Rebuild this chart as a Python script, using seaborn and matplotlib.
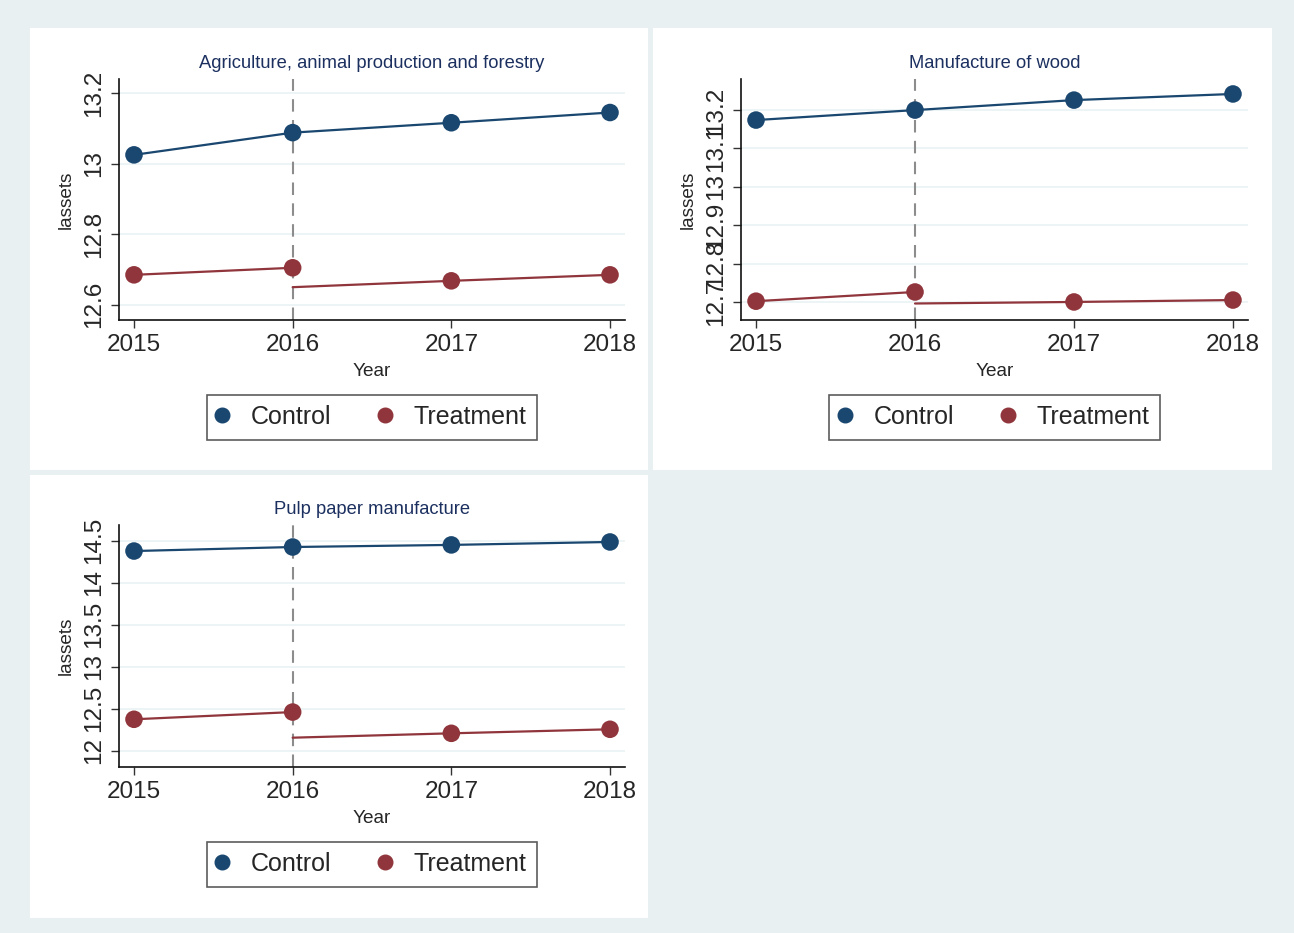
import numpy as np
import pandas as pd
import matplotlib
matplotlib.use("Agg")
import matplotlib.pyplot as plt
import seaborn as sns
from matplotlib.lines import Line2D

sns.set_theme(style="white")
plt.rcParams["font.family"] = ["Liberation Sans", "DejaVu Sans"]

years = [2015, 2016, 2017, 2018]
post_years = [2016, 2017, 2018]
groups = ["Control", "Treatment"]

titles = ["Agriculture, animal production and forestry",
          "Manufacture of wood",
          "Pulp paper manufacture"]

# mean log assets per year
control_vals = [
    [13.025, 13.088, 13.116, 13.145],
    [13.174, 13.200, 13.226, 13.242],
    [14.377, 14.425, 14.450, 14.485],
]
treatment_vals = [
    [12.685, 12.705, 12.668, 12.685],
    [12.702, 12.726, 12.700, 12.705],
    [12.374, 12.460, 12.207, 12.255],
]
# post-period treatment line (starts at the 2016 cutoff)
treatment_post_line = [
    [12.650, 12.668, 12.685],
    [12.696, 12.700, 12.705],
    [12.155, 12.207, 12.255],
]

y_ticks = [
    [12.6, 12.8, 13.0, 13.2],
    [12.7, 12.8, 12.9, 13.0, 13.1, 13.2],
    [12.0, 12.5, 13.0, 13.5, 14.0, 14.5],
]
y_tick_labels = [
    ["12.6", "12.8", "13", "13.2"],
    ["12.7", "12.8", "12.9", "13", "13.1", "13.2"],
    ["12", "12.5", "13", "13.5", "14", "14.5"],
]
y_limits = [(12.557, 13.24), (12.653, 13.281), (11.806, 14.687)]

NAVY = "#1a476f"
MAROON = "#90353b"
BG = "#e8f0f2"
GRID = "#eaf2f3"
TITLE_C = "#1c3060"

W, H = 1294, 933
fig = plt.figure(figsize=(W / 100, H / 100), dpi=100)
fig.patch.set_facecolor(BG)

def fx(px):
    return px / W

def fy(py):
    return 1 - py / H

# white panel regions (left, top, right, bottom) in pixels
panels = [(30, 28, 648, 470), (653, 28, 1272, 470), (30, 475, 648, 918)]
# plot areas (left, top, right, bottom) in pixels
plots = [(119, 79, 625, 320), (741, 79, 1248, 320), (119, 525, 625, 767)]

for i in range(3):
    l, t, r, b = panels[i]
    fig.patches.append(plt.Rectangle((fx(l), fy(b)), fx(r - l), (b - t) / H,
                                     transform=fig.transFigure, facecolor="white",
                                     edgecolor="none", zorder=-10))

    l, t, r, b = plots[i]
    ax = fig.add_axes([fx(l), fy(b), fx(r - l), (b - t) / H])
    ax.set_zorder(2)
    ax.set_facecolor("white")

    df = pd.DataFrame({
        "Year": years * 2,
        "lassets": control_vals[i] + treatment_vals[i],
        "group": ["Control"] * 4 + ["Treatment"] * 4,
    })
    pal = {"Control": NAVY, "Treatment": MAROON}

    ctrl = df[df.group == "Control"]
    sns.lineplot(data=ctrl, x="Year", y="lassets", color=NAVY, lw=1.6, ax=ax,
                 legend=False, zorder=3)
    pre = df[(df.group == "Treatment") & (df.Year <= 2016)]
    sns.lineplot(data=pre, x="Year", y="lassets", color=MAROON, lw=1.6, ax=ax,
                 legend=False, zorder=3)
    post = pd.DataFrame({"Year": post_years, "lassets": treatment_post_line[i]})
    sns.lineplot(data=post, x="Year", y="lassets", color=MAROON, lw=1.6, ax=ax,
                 legend=False, zorder=3)
    sns.scatterplot(data=df, x="Year", y="lassets", hue="group", palette=pal,
                    s=160, edgecolor="none", ax=ax, legend=False, zorder=4)

    ax.axvline(2016, color="#8c8c8c", lw=1.5, ls=(0, (6, 4)), zorder=2)

    ax.set_xlim(2015 - 0.0945, 2018 + 0.0945)
    ax.set_ylim(*y_limits[i])
    ax.set_xticks(years)
    ax.set_xticklabels([str(y) for y in years], fontsize=17.5)
    ax.set_yticks(y_ticks[i])
    ax.set_yticklabels(y_tick_labels[i], fontsize=17.5, rotation=90, va="center")
    ax.tick_params(axis="both", which="major", length=6, width=1, color="#333333",
                   direction="out", pad=4, left=True, bottom=True)
    ax.grid(axis="y", color=GRID, lw=1.2)
    ax.set_axisbelow(True)
    for side in ["top", "right"]:
        ax.spines[side].set_visible(False)
    for side in ["left", "bottom"]:
        ax.spines[side].set_color("#111111")
        ax.spines[side].set_linewidth(1.2)

    ax.set_xlabel("Year", fontsize=13.7, labelpad=5)
    ax.set_ylabel("lassets", fontsize=13.7, labelpad=6)
    ax.set_title(titles[i], fontsize=13.2, color=TITLE_C, pad=8)

    handles = [Line2D([], [], ls="none", marker="o", ms=10.5, color=NAVY, label="Control"),
               Line2D([], [], ls="none", marker="o", ms=10.5, color=MAROON, label="Treatment")]
    pl, pt, pr, pb = panels[i]
    cx = (plots[i][0] + plots[i][2]) / 2
    cy = pt + 389
    leg = fig.legend(handles=handles, loc="center", ncol=2,
                     bbox_to_anchor=(fx(cx), fy(cy)),
                     bbox_transform=fig.transFigure, fontsize=18, frameon=True,
                     fancybox=False, edgecolor="#333333", handletextpad=0.95,
                     columnspacing=1.95, borderpad=0.42, handlelength=0.4)
    leg.get_frame().set_linewidth(1.2)

fig.savefig("out.png", dpi=100, facecolor=BG)
